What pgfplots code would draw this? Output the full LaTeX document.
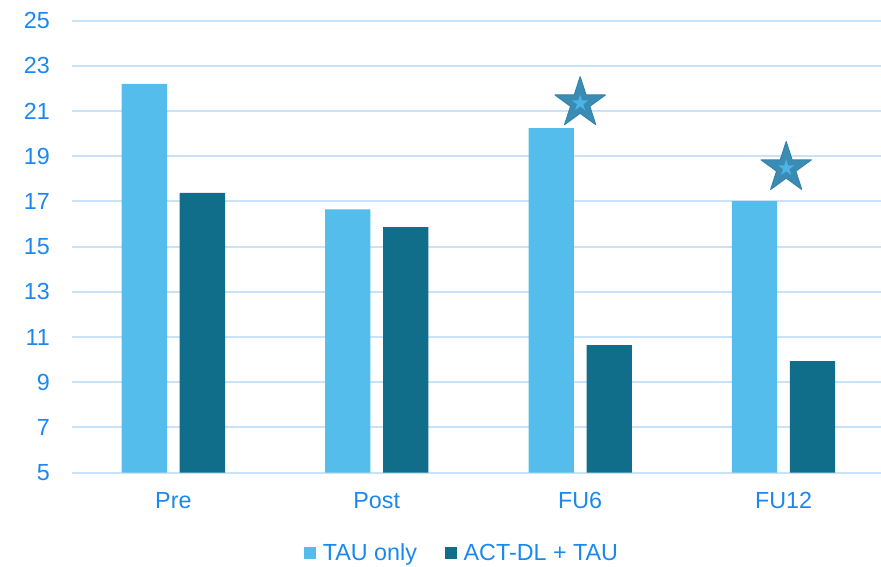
\documentclass[border=0pt]{standalone}
\usepackage{fontspec}
\setmainfont{Liberation Sans}
\usepackage{pgfplots}
\pgfplotsset{compat=1.18}
\definecolor{tau}{HTML}{55BDEC}
\definecolor{act}{HTML}{116E8A}
\definecolor{gridblue}{HTML}{C8E2F8}
\definecolor{tickblue}{HTML}{1A88EE}
\definecolor{starout}{HTML}{3A8CB5}
\definecolor{starline}{HTML}{3484AD}
\definecolor{starin}{HTML}{4BB5E8}
\newcommand\cf{\fontsize{23.3pt}{28pt}\selectfont}
\pgfdeclareplotmark{fivestar}{%
  \pgfpathmoveto{\pgfpointpolar{90}{\pgfplotmarksize}}%
  \pgfpathlineto{\pgfpointpolar{126}{0.382*\pgfplotmarksize}}%
  \pgfpathlineto{\pgfpointpolar{162}{\pgfplotmarksize}}%
  \pgfpathlineto{\pgfpointpolar{198}{0.382*\pgfplotmarksize}}%
  \pgfpathlineto{\pgfpointpolar{234}{\pgfplotmarksize}}%
  \pgfpathlineto{\pgfpointpolar{270}{0.382*\pgfplotmarksize}}%
  \pgfpathlineto{\pgfpointpolar{306}{\pgfplotmarksize}}%
  \pgfpathlineto{\pgfpointpolar{342}{0.382*\pgfplotmarksize}}%
  \pgfpathlineto{\pgfpointpolar{18}{\pgfplotmarksize}}%
  \pgfpathlineto{\pgfpointpolar{54}{0.382*\pgfplotmarksize}}%
  \pgfpathclose
  \pgfusepathqfillstroke}
\begin{document}
\begin{tikzpicture}
\path[use as bounding box] (0,0) rectangle (881pt,567pt);
\begin{axis}[
  at={(71.65pt,94.3pt)}, anchor=south west,
  scale only axis, width=813.6pt, height=452pt,
  xmin=-0.5, xmax=3.5, ymin=5, ymax=25,
  xtick={0,1,2,3}, xticklabels={Pre,Post,FU6,FU12},
  ytick={5,7,...,25},
  ymajorgrids, grid style={color=gridblue, line width=2pt},
  axis line style={draw=none}, tick style={draw=none},
  /pgf/number format/assume math mode=true,
  ticklabel style={font=\cf, text=tickblue, inner sep=0pt},
  yticklabel style={anchor=east, xshift=-21.6pt},
  xticklabel style={anchor=north, yshift=-19.3pt},
  legend style={draw=none, fill=none, font=\cf, text=tickblue,
    at={(0.2856,-0.1777)}, anchor=west, legend columns=2, inner sep=0pt,
    nodes={inner sep=0pt},
    /tikz/every odd column/.append style={column sep=7pt},
    /tikz/every even column/.append style={column sep=28pt}},
  legend image code/.code={\fill[#1] (0pt,-5.85pt) rectangle (11.7pt,5.85pt);},
]
\addplot[ybar, bar width=45.3pt, bar shift=-29pt, fill=tau, draw=none]
  coordinates {(0,22.2) (1,16.65) (2,20.25) (3,17.02)};
\addlegendentry{TAU only}
\addplot[ybar, bar width=45.3pt, bar shift=29pt, fill=act, draw=none]
  coordinates {(0,17.38) (1,15.87) (2,10.65) (3,9.94)};
\addlegendentry{ACT-DL + TAU}
\addplot[forget plot, only marks, mark=fivestar, mark size=26.5pt,
  mark options={fill=starout, draw=starline, line width=1pt, line join=round}]
  coordinates {(2,21.35) (3.013,18.48)};
\addplot[forget plot, only marks, mark=fivestar, mark size=8pt,
  mark options={fill=starin, draw=starin, line width=0.2pt}]
  coordinates {(2,21.35) (3.013,18.48)};
\end{axis}
\end{tikzpicture}
\end{document}
